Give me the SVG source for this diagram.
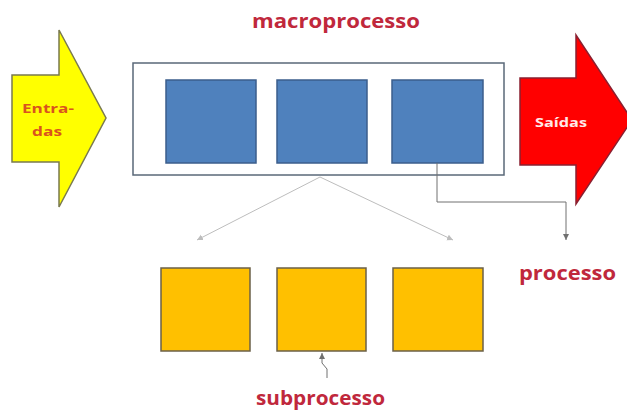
<svg xmlns="http://www.w3.org/2000/svg" width="627" height="410" viewBox="0 0 627 410">
<defs>
<style>
.lbl{font-family:"Open Sans","Liberation Sans",sans-serif;font-weight:bold;fill:#C0283C}
.small{font-family:"Open Sans","Liberation Sans",sans-serif;font-weight:bold;font-size:13px}
.blue{fill:#4F81BD;stroke:#3B5E8C;stroke-width:1.5}
.orange{fill:#FFC000;stroke:#6B6048;stroke-width:1.5}
.thin{fill:none;stroke:#707070;stroke-width:1}
.light{fill:none;stroke:#BDBDBD;stroke-width:1}
</style>
<marker id="ah" markerWidth="8" markerHeight="8" refX="6" refY="4" orient="auto" markerUnits="userSpaceOnUse">
<path d="M0,1 L6,4 L0,7 Z" fill="#707070"/>
</marker>
<marker id="ahl" markerWidth="8" markerHeight="8" refX="6" refY="4" orient="auto" markerUnits="userSpaceOnUse">
<path d="M0,1 L6,4 L0,7 Z" fill="#BDBDBD"/>
</marker>
</defs>
<rect width="627" height="410" fill="#FFFFFF"/>
<g id="entradas">
<polygon points="12,75 59,75 59,30 106,118 59,207 59,162 12,162" fill="#FFFF00" stroke="#7A7A50" stroke-width="1.5"/>
<text x="22" y="113" class="small" fill="#D9531E" textLength="52" lengthAdjust="spacingAndGlyphs">Entra-</text>
<text x="32" y="136" class="small" fill="#D9531E" textLength="30" lengthAdjust="spacingAndGlyphs">das</text>
</g>
<g id="saidas">
<polygon points="520,78 576,78 576,35 632,120 576,204 576,165 520,165" fill="#FF0000" stroke="#8A2030" stroke-width="1.5"/>
<text x="535" y="127" class="small" fill="#FFE8E8" textLength="52" lengthAdjust="spacingAndGlyphs">Saídas</text>
</g>
<g id="macroprocesso">
<rect x="133" y="63" width="371" height="112" fill="#FFFFFF" stroke="#5A6878" stroke-width="1.5"/>
<text x="252" y="28" class="lbl" font-size="19" textLength="168" lengthAdjust="spacingAndGlyphs">macroprocesso</text>
</g>
<g id="p1"><rect class="blue" x="166" y="80" width="90" height="83"/></g>
<g id="p2"><rect class="blue" x="277" y="80" width="90" height="83"/></g>
<g id="p3"><rect class="blue" x="392" y="80" width="91" height="83"/></g>
<g id="s1"><rect class="orange" x="161" y="268" width="89" height="83"/></g>
<g id="s2"><rect class="orange" x="277" y="268" width="89" height="83"/></g>
<g id="s3"><rect class="orange" x="393" y="268" width="90" height="83"/></g>
<g id="processo-label"><text x="519" y="280" class="lbl" font-size="19" textLength="97" lengthAdjust="spacingAndGlyphs">processo</text></g>
<g id="subprocesso-label"><text x="256" y="405" class="lbl" font-size="19" textLength="129" lengthAdjust="spacingAndGlyphs">subprocesso</text></g>
<g id="connectors">
<path class="thin" d="M437,163 L437,202 L566,202 L566,240" marker-end="url(#ah)"/>
<path class="light" d="M320,177 L197,240" marker-end="url(#ahl)"/>
<path class="light" d="M320,177 L453,240" marker-end="url(#ahl)"/>
<path class="thin" d="M327,378 L327,369 L322,363 L322,353" marker-end="url(#ah)"/>
</g>
</svg>
